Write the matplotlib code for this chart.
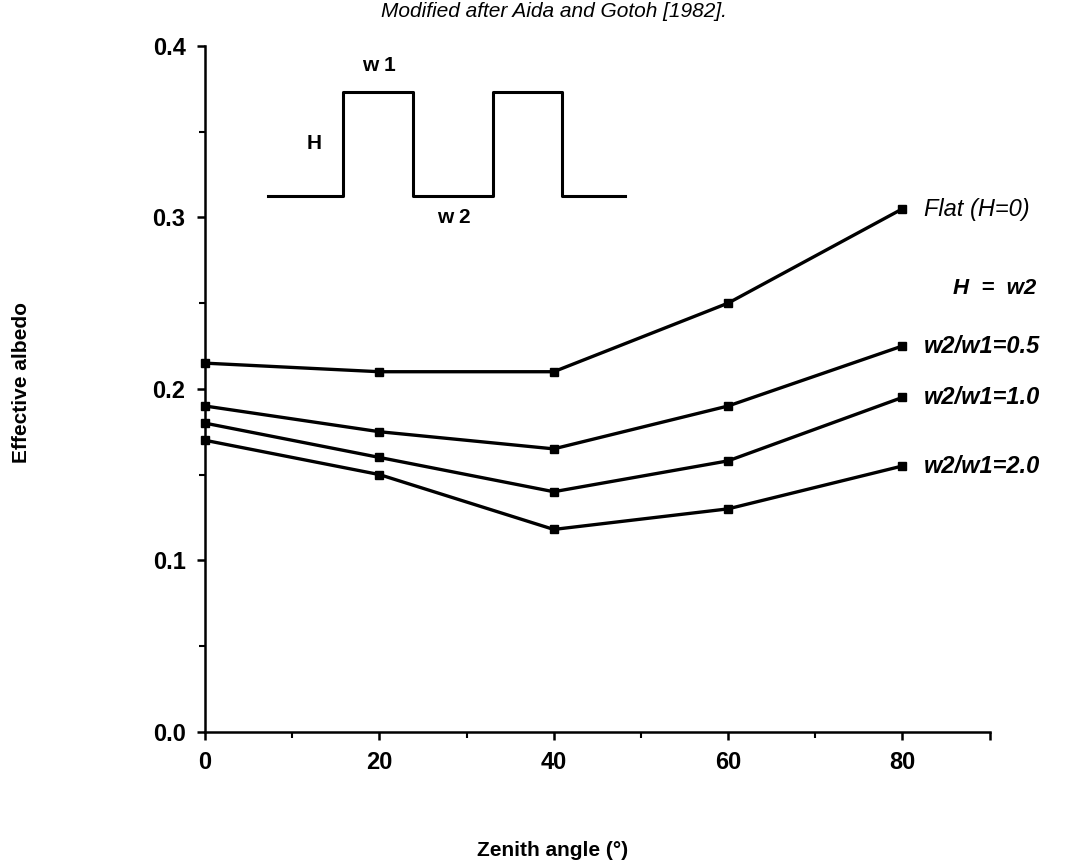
import matplotlib.pyplot as plt

# zenith angle (deg)
zenith = [0, 20, 40, 60, 80]

# effective albedo
flat = [0.215, 0.210, 0.210, 0.250, 0.305]
ratio_05 = [0.190, 0.175, 0.165, 0.190, 0.225]
ratio_10 = [0.180, 0.160, 0.140, 0.158, 0.195]
ratio_20 = [0.170, 0.150, 0.118, 0.130, 0.155]

labels = ["Flat (H=0)", "w2/w1=0.5", "w2/w1=1.0", "w2/w1=2.0"]
series = [flat, ratio_05, ratio_10, ratio_20]

x_ticks = [0, 20, 40, 60, 80, 90]
x_ticklabels = ["0", "20", "40", "60", "80", ""]
y_ticks = [0.0, 0.1, 0.2, 0.3, 0.4]
y_ticklabels = ["0.0", "0.1", "0.2", "0.3", "0.4"]

# the little square-wave sketch of the terrain
wave_x = [7.2, 15.8, 15.8, 23.9, 23.9, 33.0, 33.0, 40.9, 40.9, 48.2]
wave_y = [0.3125, 0.3125, 0.373, 0.373, 0.3125, 0.3125, 0.373, 0.373, 0.3125, 0.3125]

plt.rcParams['font.family'] = ['Liberation Sans', 'DejaVu Sans']

fig = plt.figure(figsize=(10.85, 8.68), dpi=100)
ax = fig.add_axes([0.189, 0.157, 0.723, 0.79])

for vals in series:
    ax.plot(zenith, vals, color='black', lw=2.4, marker='s', ms=5.5,
            clip_on=False, zorder=3)

ax.plot(wave_x, wave_y, color='black', lw=2.2)
ax.text(20, 0.383, "w 1", fontsize=15, fontweight='bold', ha='center', va='bottom')
ax.text(12.5, 0.343, "H", fontsize=15, fontweight='bold', ha='center', va='center')
ax.text(28.5, 0.300, "w 2", fontsize=15, fontweight='bold', ha='center', va='center')

# labels at right end of each curve
ax.text(82.5, 0.3045, labels[0], fontsize=17, fontstyle='italic', va='center')
ax.text(85.8, 0.2585, "H  =  w2", fontsize=16, fontstyle='italic', fontweight='bold', va='center')
for vals, lab in zip(series[1:], labels[1:]):
    ax.text(82.5, vals[-1], lab, fontsize=17, fontstyle='italic', fontweight='bold', va='center')

ax.set_xlim(0, 90)
ax.set_ylim(0, 0.4)
ax.set_xticks(x_ticks)
ax.set_xticklabels(x_ticklabels)
ax.set_xticks([10, 30, 50, 70], minor=True)
ax.set_yticks(y_ticks)
ax.set_yticklabels(y_ticklabels)
ax.set_yticks([0.05, 0.15, 0.25, 0.35], minor=True)

for s in ['top', 'right']:
    ax.spines[s].set_visible(False)
for s in ['left', 'bottom']:
    ax.spines[s].set_linewidth(1.8)
ax.tick_params(which='major', length=6, width=1.8, labelsize=17, pad=8)
ax.tick_params(which='minor', length=4, width=1.5)
for lab in ax.get_xticklabels() + ax.get_yticklabels():
    lab.set_fontweight('bold')

ax.set_xlabel("Zenith angle (°)", fontsize=15, fontweight='bold')
ax.xaxis.set_label_coords(0.443, -0.16)
ax.set_ylabel("Effective albedo", fontsize=15, fontweight='bold')
ax.yaxis.set_label_coords(-0.222, 0.51)
ax.set_title("Modified after Aida and Gotoh [1982].", fontsize=15,
             fontstyle='italic', x=0.445, y=1.03)

fig.savefig("out.png", dpi=100)
